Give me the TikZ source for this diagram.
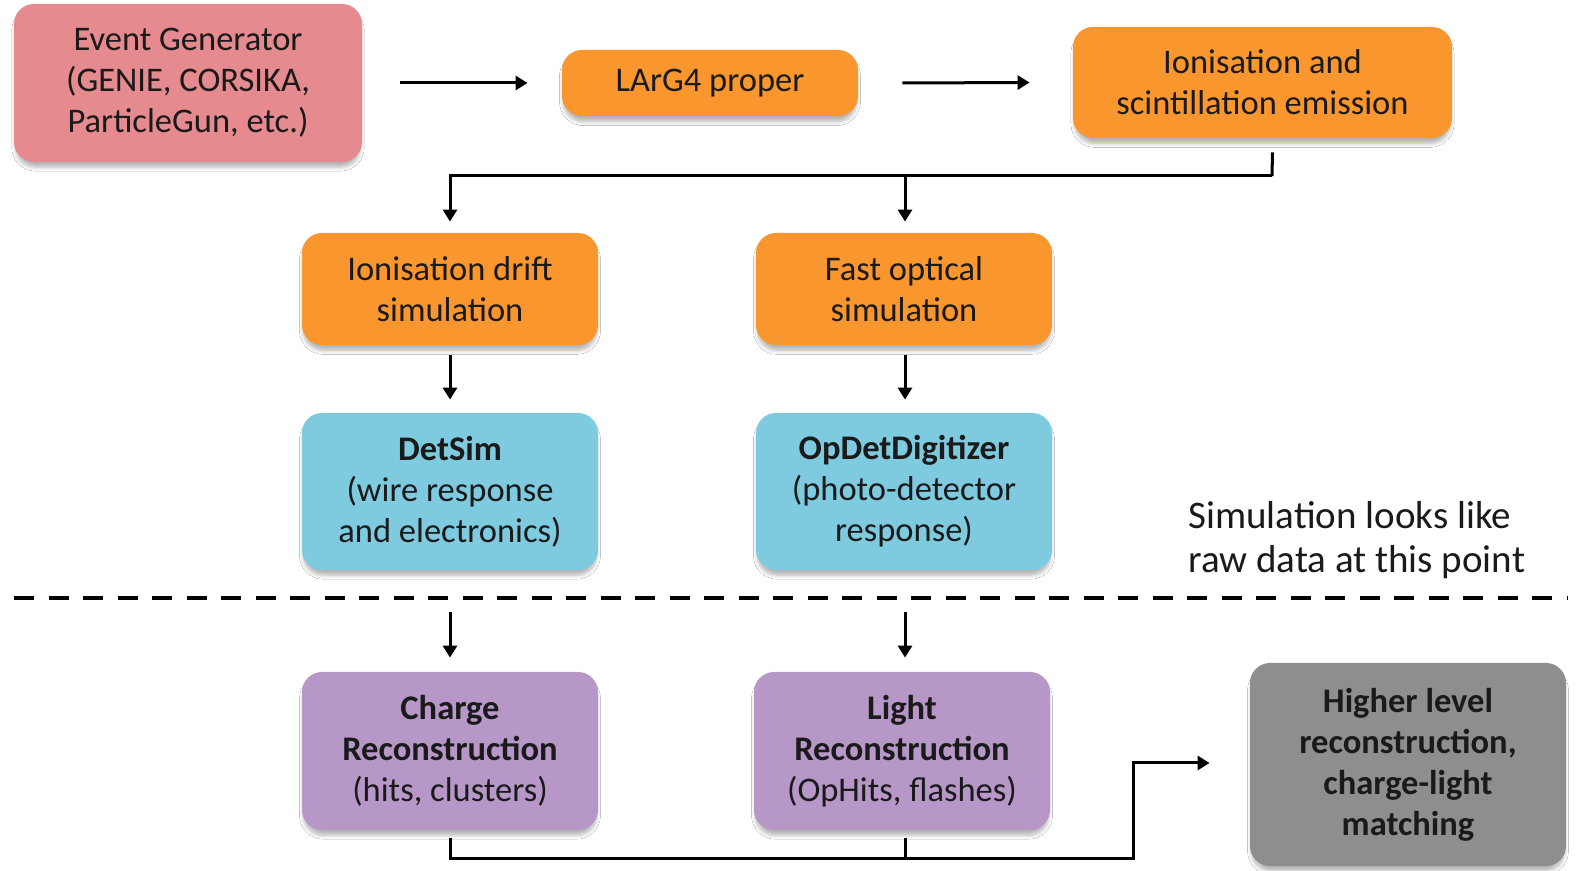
\documentclass[tikz,border=0pt]{standalone}
\usepackage{fontspec}
\setmainfont{Carlito}
\usetikzlibrary{arrows.meta,shadows.blur,calc}
\definecolor{cpink}{HTML}{E58A8E}
\definecolor{corange}{HTML}{F9962E}
\definecolor{ccyan}{HTML}{7ECBE0}
\definecolor{cpurple}{HTML}{B697C8}
\definecolor{cgray}{HTML}{8E8E8E}
\definecolor{ctext}{HTML}{1A1A1A}
\tikzset{
  box/.style={rounded corners=10pt, align=center, inner sep=0pt, text=ctext,
    font=\fontsize{17.25}{20.5}\selectfont,
    blur shadow={shadow xshift=0pt, shadow yshift=-3pt, shadow blur radius=2pt,
      shadow blur steps=6, shadow opacity=30, shadow scale=0.99}},
  conn/.style={line width=1.5pt, -{Triangle[length=6pt,width=7pt]}},
  line/.style={line width=1.5pt},
}
\begin{document}
\begin{tikzpicture}[x=0.5pt,y=-0.5pt]
\useasboundingbox (0,0) rectangle (1576,871);
\fill[white] (0,0) rectangle (1576,871);
\node[box, fill=cpink, minimum width=174pt, minimum height=79pt] (ev) at (188,83)
  {Event Generator\\(GENIE, CORSIKA,\\ParticleGun, etc.)};
\node[box, fill=corange, minimum width=148pt, minimum height=33pt] (larg) at (710,83)
  {LArG4 proper};
\node[box, fill=corange, minimum width=189.5pt, minimum height=55.5pt] (ion) at (1262.5,82.5)
  {Ionisation and\\scintillation emission};
\node[box, fill=corange, minimum width=148pt, minimum height=56pt] (drift) at (450,289)
  {Ionisation drift\\simulation};
\node[box, fill=corange, minimum width=148pt, minimum height=56pt] (fast) at (904,289)
  {Fast optical\\simulation};
\node[box, fill=ccyan, minimum width=148pt, minimum height=78.5pt] (det) at (450,491.5)
  {\textbf{DetSim}\\(wire response\\and electronics)};
\node[box, fill=ccyan, minimum width=148pt, minimum height=78.5pt] (opdet) at (904,491.5)
  {\textbf{OpDetDigitizer}\\(photo-detector\\response)};
\node[box, fill=cpurple, minimum width=148pt, minimum height=79pt] (charge) at (450,751)
  {\textbf{Charge}\\\textbf{Reconstruction}\\(hits, clusters)};
\node[box, fill=cpurple, minimum width=148pt, minimum height=79pt] (light) at (902,751)
  {\textbf{Light}\\\textbf{Reconstruction}\\(OpHits, flashes)};
\node[box, fill=cgray, minimum width=158pt, minimum height=101.5pt] (high) at (1408,764.5)
  {\textbf{Higher level}\\\textbf{reconstruction,}\\\textbf{charge-light}\\\textbf{matching}};
\node[align=left, anchor=west, inner sep=0pt, text=ctext, font=\fontsize{19.5}{22}\selectfont] (note) at (1188,540)
  {Simulation looks like\\raw data at this point};
% dashed separator
\coordinate (dl) at (14,598);
\coordinate (dr) at (1568,598);
\draw[line width=2pt, dash pattern=on 10pt off 7.25pt] (dl) -- (dr);
% top arrows
\draw[conn] ([xshift=19pt]ev.east |- larg.west) -- ([xshift=-17pt]larg.west);
\draw[conn] ([xshift=22pt]larg.east) -- ([xshift=-21.5pt]ion.west);
% split from ionisation
\coordinate (isrc) at ($(ion.south)+(10,14)$);
\coordinate (split) at (1272,176);
\draw[line] (isrc) -- (split);
\draw[conn] (split) -| ([yshift=5.5pt]drift.north);
\draw[conn] (905,176) -- ([yshift=5.5pt]fast.north -| 905,0);
% down arrows
\draw[conn] ([yshift=-5pt]drift.south) -- ([yshift=6.5pt]det.north);
\draw[conn] ([yshift=-5pt]fast.south -| 905,0) -- ([yshift=6.5pt]opdet.north -| 905,0);
\draw[conn] ([yshift=-21pt]det.south) -- ([yshift=7pt]charge.north);
\draw[conn] ([yshift=-21pt]opdet.south -| 905,0) -- ([yshift=7pt]light.north -| 905,0);
% bottom merge
\coordinate (mid) at (1133,858);
\draw[conn] ([yshift=-4pt]charge.south) |- (mid) |- ([xshift=-20pt]high.west |- 0,763);
\draw[line] ([yshift=-4pt]light.south -| 905,0) -- (905,858);
\end{tikzpicture}
\end{document}
